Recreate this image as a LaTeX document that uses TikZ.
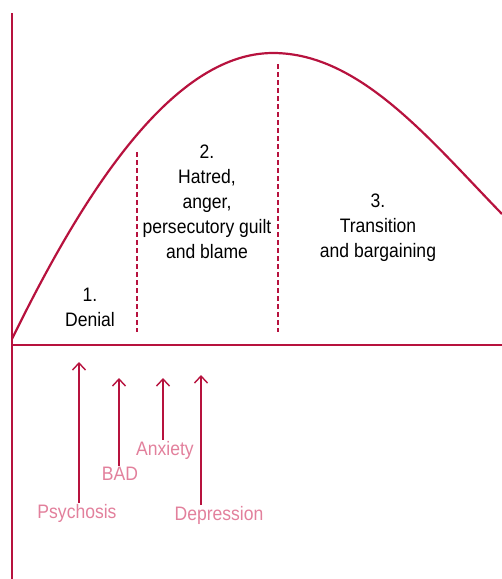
\documentclass[tikz,border=0pt]{standalone}
\usepackage{fontspec}
\setmainfont{Liberation Sans}[FakeStretch=0.9]
\usetikzlibrary{arrows.meta}

\definecolor{curvered}{RGB}{183,18,62}
\definecolor{labelpink}{RGB}{226,128,156}

\begin{document}
\begin{tikzpicture}[x = 1pt, y = -1pt, every node/.style = {align = center,
	font = \fontsize{19.5}{25}\selectfont, inner sep = 1pt},
	stage/.style = {text = black},
	illness/.style = {text = labelpink},
	axisline/.style = {draw = curvered, line width = 2.2pt},
	divider/.style = {draw = curvered, line width = 1.3pt, dash pattern = on 5pt off 3pt},
	onset/.style = {draw = curvered, line width = 1.4pt, -{Straight Barb[length = 7pt, width = 13pt, line width = 1.4pt]}}]

	\useasboundingbox (0, 0) rectangle (502, 579);

		% axes and curve
		\coordinate (top)    at ( 12,  13);
		\coordinate (bottom) at ( 12, 579);
		\coordinate (origin) at ( 12, 345);
		\coordinate (right)  at (502, 345);
		\coordinate (start)  at ( 12, 339);
		\coordinate (peak)   at (273,  53);
		\coordinate (end)    at (502, 214);
		\draw [axisline] (top) -- (bottom);
		\draw [axisline] (origin) -- (right);
		\draw [axisline] (start) .. controls (80, 200) and (170, 53) .. (peak)
			.. controls (360, 53) and (430, 140) .. (end);

		% stage dividers
		\coordinate (d1a) at (137, 152);
		\coordinate (d1b) at (137, 332);
		\coordinate (d2a) at (278,  64);
		\coordinate (d2b) at (278, 332);
		\draw [divider] (d1a) -- (d1b);
		\draw [divider] (d2a) -- (d2b);

		% stages
		\node (denial)     at ( 90, 307) [stage] {1.\\Denial};
		\node (hatred)     at (207, 202) [stage] {2.\\Hatred,\\anger,\\persecutory guilt\\and blame};
		\node (transition) at (378, 228) [stage] {3.\\Transition\\and bargaining};

		% onset of illness
		\node (psychosis)  at ( 77, 513) [illness] {Psychosis};
		\node (bad)        at (120, 474) [illness] {BAD};
		\node (anxiety)    at (165, 450) [illness] {Anxiety};
		\node (depression) at (219, 515) [illness] {Depression};

		\coordinate (psychosisTip)  at ( 79, 362);
		\coordinate (badTip)        at (119, 378);
		\coordinate (anxietyTip)    at (163, 378);
		\coordinate (depressionTip) at (201, 375);

	    \foreach \from/\to in {psychosis/psychosisTip, bad/badTip, anxiety/anxietyTip, depression/depressionTip}
	    	\draw [onset] (\from.north -| \to) -- (\to);

	\end{tikzpicture}
\end{document}
